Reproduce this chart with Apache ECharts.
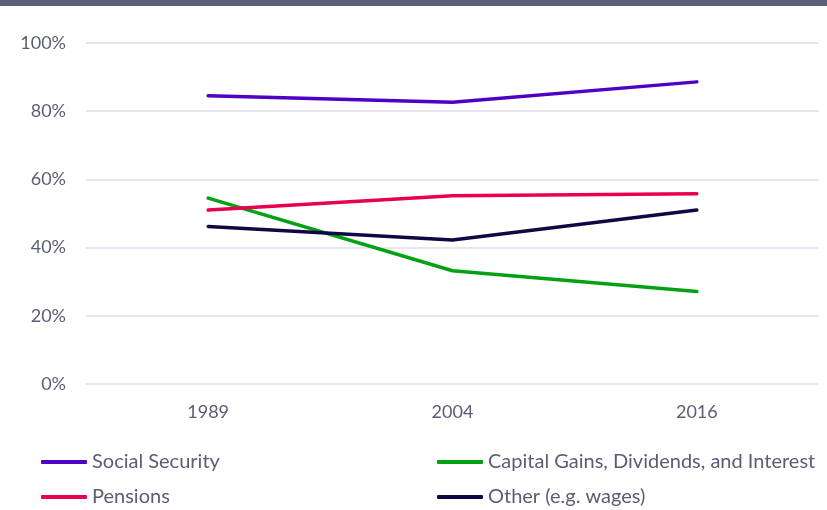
<!DOCTYPE html>
<html>
<head>
<meta charset="utf-8">
<script src="https://cdn.jsdelivr.net/npm/echarts@6/dist/echarts.min.js"></script>
<style>
html, body { margin: 0; padding: 0; background: #fff; }
#chart { width: 827px; height: 510px; }
</style>
</head>
<body>
<div id="chart"></div>
<script>
let years = ['1989', '2004', '2016'];
let socialSecurity = [84.5, 82.6, 88.6];
let pensions = [51.0, 55.2, 55.8];
let capitalGains = [54.5, 33.2, 27.1];
let otherIncome = [46.2, 42.2, 51.0];
let yTicks = [0, 20, 40, 60, 80, 100];

let seriesConfigs = [
    { name: 'Social Security', data: socialSecurity, color: '#4e00c4' },
    { name: 'Capital Gains, Dividends, and Interest', data: capitalGains, color: '#00a214' },
    { name: 'Pensions', data: pensions, color: '#e8004e' },
    { name: 'Other (e.g. wages)', data: otherIncome, color: '#100845' }
];

let fontFamily = 'Lato';
let textColor = '#5a5e74';

let chart = echarts.init(document.getElementById('chart'));

// one legend per item so the two columns line up like the original
let legendPos = [
    { left: 41, top: 452 },
    { left: 437, top: 452 },
    { left: 41, top: 487 },
    { left: 437, top: 487 }
];
let legends = seriesConfigs.map(function (cfg, i) {
    return {
        data: [cfg.name],
        left: legendPos[i].left,
        top: legendPos[i].top,
        icon: 'roundRect',
        itemWidth: 46,
        itemHeight: 4,
        padding: 0,
        selectedMode: false,
        textStyle: {
            color: textColor,
            fontFamily: fontFamily,
            fontSize: 20
        }
    };
});

let series = seriesConfigs.map(function (cfg) {
    return {
        name: cfg.name,
        type: 'line',
        data: cfg.data,
        symbol: 'none',
        color: cfg.color,
        lineStyle: {
            width: 3.5,
            color: cfg.color,
            cap: 'round'
        }
    };
});

chart.setOption({
    animation: false,
    backgroundColor: '#ffffff',
    graphic: [{
        type: 'rect',
        shape: { x: 0, y: 0, width: 827, height: 6 },
        style: { fill: '#5c5f7a' }
    }],
    legend: legends,
    grid: {
        left: 86,
        right: 8,
        top: 43,
        bottom: 126
    },
    xAxis: {
        type: 'category',
        data: years,
        boundaryGap: true,
        axisLine: { show: false },
        axisTick: { show: false },
        axisLabel: {
            margin: 19,
            color: textColor,
            fontFamily: fontFamily,
            fontSize: 18
        }
    },
    yAxis: {
        type: 'value',
        min: yTicks[0],
        max: yTicks[yTicks.length - 1],
        interval: 20,
        axisLine: { show: false },
        axisTick: { show: false },
        splitLine: {
            lineStyle: { color: '#e6e6ee', width: 2 }
        },
        axisLabel: {
            margin: 20,
            color: textColor,
            fontFamily: fontFamily,
            fontSize: 18,
            formatter: '{value}%'
        }
    },
    series: series
});
</script>
</body>
</html>
